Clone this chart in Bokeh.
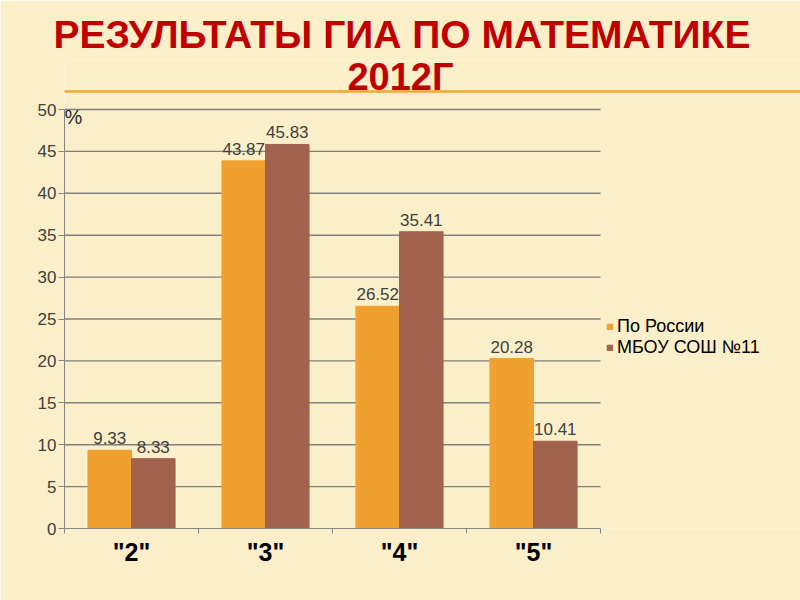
from bokeh.plotting import figure
from bokeh.models import (Range1d, FixedTicker, Label, Legend, LegendItem,
                          ColumnDataSource, Title)
from bokeh.core.properties import value
from bokeh.embed import file_html
from bokeh.resources import INLINE

title_line1 = "РЕЗУЛЬТАТЫ ГИА ПО МАТЕМАТИКЕ"
title_line2 = "2012Г"
categories = ['"2"', '"3"', '"4"', '"5"']
series_names = ["По России", "МБОУ СОШ №11"]
russia = [9.33, 43.87, 26.52, 20.28]
school = [8.33, 45.83, 35.41, 10.41]
y_ticks = [0, 5, 10, 15, 20, 25, 30, 35, 40, 45, 50]
y_unit = "%"

FONT = "Liberation Sans"
ORANGE = "#EFA02E"
BROWN = "#A3624D"
BG = "#FAEFC8"
GRID = "#7F7F7F"
RED = "#C00000"

W, H = 800, 600
LEFT, TOP, BOTTOM = 64, 60, 72
CAT_W = 134                       # pixel width of one category slot
PX_PER_UNIT = 419 / 50            # vertical scale of the value axis
n = len(categories)
frame_w = W - LEFT
frame_h = H - TOP - BOTTOM
x_end = frame_w / CAT_W - 0.5     # chart occupies n slots, legend sits in the remainder
y_end = frame_h / PX_PER_UNIT     # room above 50 for the subtitle and rule


def py(px_from_top):              # vertical page position -> value units
    return (H - BOTTOM - px_from_top) / PX_PER_UNIT


def px(px_from_left):             # horizontal page position -> slot units
    return (px_from_left - LEFT) / CAT_W - 0.5


idx = list(range(n))
bw = 0.325
src = ColumnDataSource(dict(
    xr=[i - bw / 2 for i in idx],
    xs=[i + bw / 2 for i in idx],
    russia=russia,
    school=school,
    russia_txt=[f"{v:.2f}" for v in russia],
    school_txt=[f"{v:.2f}" for v in school],
))

p = figure(width=W, height=H, x_range=Range1d(-0.5, x_end), y_range=Range1d(0, y_end),
           output_backend="svg", toolbar_location=None,
           min_border_left=LEFT, min_border_right=0, min_border_top=TOP,
           min_border_bottom=BOTTOM)
p.background_fill_color = BG
p.border_fill_color = BG
p.outline_line_color = None
p.xgrid.grid_line_color = None
p.ygrid.grid_line_color = None

# horizontal grid lines spanning only the category slots
gy = y_ticks[1:]
p.segment(x0=[-0.5] * len(gy), x1=[n - 0.5] * len(gy), y0=gy, y1=gy,
          line_color=GRID, line_width=1.4)

r1 = p.vbar(x="xr", top="russia", width=bw, bottom=0, source=src,
            fill_color=ORANGE, line_color=ORANGE)
r2 = p.vbar(x="xs", top="school", width=bw, bottom=0, source=src,
            fill_color=BROWN, line_color=BROWN)

for xcol, col, txt in (("xr", "russia", "russia_txt"), ("xs", "school", "school_txt")):
    p.text(x=xcol, y=col, text=txt, source=src,
           text_align="center", text_baseline="bottom", y_offset=-6,
           text_font=value(FONT), text_font_size="17px", text_color="#404040")

# y axis
p.yaxis.ticker = FixedTicker(ticks=y_ticks)
p.yaxis.bounds = (y_ticks[0], y_ticks[-1])
p.yaxis.minor_tick_line_color = None
p.yaxis.major_tick_in = 0
p.yaxis.major_tick_out = 6
p.yaxis.axis_line_color = "#868686"
p.yaxis.major_tick_line_color = "#868686"
p.yaxis.major_label_text_font = FONT
p.yaxis.major_label_text_font_size = "17px"
p.yaxis.major_label_text_color = "#404040"
p.yaxis.major_label_standoff = 2

# x axis: labels at slot centres, small ticks at slot boundaries
p.xaxis.ticker = FixedTicker(ticks=idx, minor_ticks=[i - 0.5 for i in range(n + 1)])
p.xaxis.major_label_overrides = {i: c for i, c in zip(idx, categories)}
p.xaxis.bounds = (-0.5, n - 0.5)
p.xaxis.axis_line_color = "#868686"
p.xaxis.major_tick_line_color = None
p.xaxis.minor_tick_line_color = "#868686"
p.xaxis.minor_tick_in = 0
p.xaxis.minor_tick_out = 5
p.xaxis.major_label_text_font = FONT
p.xaxis.major_label_text_font_size = "25px"
p.xaxis.major_label_text_font_style = "bold"
p.xaxis.major_label_text_color = "#000000"
p.xaxis.major_label_standoff = 3

p.add_layout(Label(x=-0.5, y=py(116), text=y_unit, text_align="left", text_baseline="middle",
                   text_font=FONT, text_font_size="20px", text_color="#262626"))

# orange rule under the title and the second title line (inside the frame)
p.segment(x0=[px(0)], x1=[x_end], y0=[py(91)], y1=[py(91)],
          line_color="#F0A830", line_width=2.5)
p.text(x=[px(400)], y=[py(97)], text=[title_line2], text_align="center",
       text_baseline="bottom", text_font=value(FONT), text_font_size="38px",
       text_font_style="bold", text_color=RED)

# first title line above the frame
p.add_layout(Title(text=title_line1, align="left", offset=-11, standoff=9,
                   text_font=FONT, text_font_size="39px", text_font_style="bold",
                   text_color=RED), "above")

legend = Legend(items=[LegendItem(label=series_names[0], renderers=[r1]),
                       LegendItem(label=series_names[1], renderers=[r2])],
                location=(542, 170), margin=0, padding=0, spacing=0,
                glyph_width=7, glyph_height=7, label_height=18, label_standoff=4,
                label_text_font=FONT, label_text_font_size="18px", label_text_color="#000000",
                background_fill_alpha=0, border_line_color=None)
p.add_layout(legend, "center")

open("out.html", "w").write(file_html(p, INLINE))
